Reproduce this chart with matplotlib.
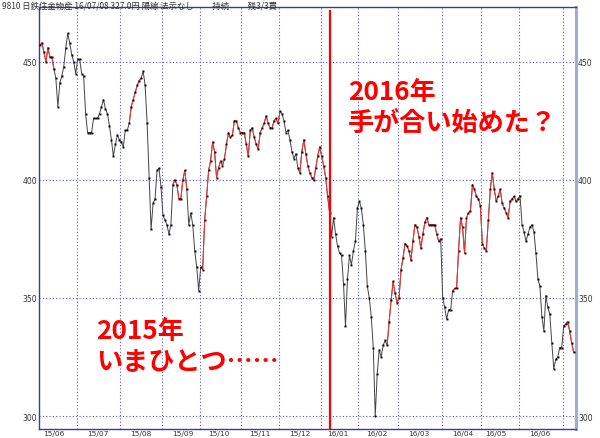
import matplotlib
matplotlib.use("Agg")
import matplotlib.pyplot as plt
import numpy as np
import pandas as pd

# 9810 日鉄住金物産 日足終値 2015/06/04 - 2016/07/08 (チャートから読み取り)
close_2015_06 = [457, 458, 454, 450, 456, 452, 452, 447, 443, 431, 441, 444, 448, 456, 462, 458, 453, 450, 445]
close_2015_07 = [451, 451, 445, 444, 428, 420, 420, 420, 426, 426, 426, 428, 431, 434, 430, 428, 423, 417, 410, 415, 419, 417]
close_2015_08 = [416, 414, 421, 421, 424, 431, 434, 437, 440, 442, 443, 446, 440, 424, 401, 379, 390, 392, 404, 405, 397]
close_2015_09 = [385, 383, 381, 377, 381, 398, 400, 398, 392, 392, 400, 404, 396, 381, 386, 381, 370, 363, 353]
close_2015_10 = [363, 362, 383, 393, 404, 408, 416, 412, 401, 405, 408, 406, 409, 415, 420, 418, 419, 425, 425, 422, 420]
close_2015_11 = [420, 420, 415, 410, 421, 422, 418, 415, 413, 420, 422, 424, 427, 424, 422, 422, 425, 426, 424]
close_2015_12 = [429, 428, 425, 420, 421, 417, 412, 409, 411, 405, 403, 412, 417, 411, 406, 403, 401, 400, 405, 410, 414]
close_2016_01 = [410, 406, 401, 393, 386, 376, 384, 377, 372, 369, 368, 356, 338, 358, 368, 364, 370, 374, 388]
close_2016_02 = [391, 388, 381, 370, 355, 350, 342, 329, 300, 318, 328, 325, 330, 332, 330, 340, 349, 357, 352, 348]
close_2016_03 = [350, 362, 367, 373, 372, 370, 366, 374, 381, 380, 376, 371, 377, 382, 384, 381, 381, 381, 381, 377, 374, 375]
close_2016_04 = [350, 346, 341, 345, 345, 353, 354, 354, 370, 384, 380, 369, 384, 386, 387, 398, 396, 393, 392, 389]
close_2016_05 = [373, 371, 370, 383, 396, 403, 396, 391, 393, 396, 390, 388, 386, 384, 391, 392, 393, 391, 392]
close_2016_06 = [393, 381, 378, 374, 377, 380, 381, 378, 369, 358, 355, 342, 336, 351, 346, 343, 331, 320, 324, 325, 329, 329]
close_2016_07 = [338, 339, 340, 336, 331, 327]

close = (close_2015_06 + close_2015_07 + close_2015_08 + close_2015_09 + close_2015_10
         + close_2015_11 + close_2015_12 + close_2016_01 + close_2016_02 + close_2016_03
         + close_2016_04 + close_2016_05 + close_2016_06 + close_2016_07)

# 東証休場日
holidays = ["2015-07-20", "2015-09-21", "2015-09-22", "2015-09-23", "2015-10-12",
            "2015-11-03", "2015-11-23", "2015-12-23", "2015-12-31", "2016-01-01",
            "2016-01-11", "2016-02-11", "2016-03-21", "2016-04-29", "2016-05-03",
            "2016-05-04", "2016-05-05"]

# 赤く表示される期間 (足の番号)
red_spans = [(0, 7), (45, 51), (67, 74), (82, 121), (131, 146), (175, 202), (208, 242), (265, 269)]

mark_date = "2016-01-08"
title_txt = "9810 日鉄住金物産 16/07/08 327.0円 陽線 法示なし　　 持続　　 残3/3買"
note_2016 = "2016年\n手が合い始めた？"
note_2015 = "2015年\nいまひとつ……"

dates = pd.bdate_range("2015-06-04", "2016-07-08")
dates = dates[~dates.isin(pd.to_datetime(holidays))]
x = np.arange(len(close))
y = np.array(close, dtype=float)

JP = ["Noto Sans CJK JP", "DejaVu Sans"]
GRID = "#5555c8"

fig = plt.figure(figsize=(6, 4.39), dpi=100)
ax = fig.add_axes([39 / 600, 1 - 430 / 439, (576 - 39) / 600, (430 - 8) / 439])

# 月の区切り
months = dates.to_period("M")
starts = [i for i in range(1, len(dates)) if months[i] != months[i - 1]]
for i in starts:
    ax.axvline(i - 0.5, color=GRID, lw=0.8, ls=(0, (1, 2)), zorder=1)
for v in [300, 350, 400, 450]:
    ax.axhline(v, color=GRID, lw=0.8, ls=(0, (1, 2)), zorder=1)

# 月ラベルは15日以降の最初の営業日
lab_pos, lab_txt = [], []
for m in months.unique():
    idx = [i for i in range(len(dates)) if months[i] == m and dates[i].day >= 15]
    if idx:
        lab_pos.append(idx[0])
        lab_txt.append(dates[idx[0]].strftime("%y/%m"))

ax.plot(x, y, color="#444444", lw=0.7, zorder=3)
for a, b in red_spans:
    ax.plot(x[a:b + 1], y[a:b + 1], color="#ff3030", lw=0.7, zorder=4)
ax.plot(x, y, ls="none", marker="s", ms=1.4, mew=0, color="black", zorder=5)

mx = int(np.where(dates == pd.Timestamp(mark_date))[0][0])
ax.axvline(mx + 0.2, color="red", lw=1.6, ymax=0.99, zorder=6)

ax.set_xlim(-0.5, 270.2)
ax.set_ylim(294.5, 473.2)
ax.set_yticks([300, 350, 400, 450])
ax.set_xticks(lab_pos)
ax.set_xticklabels(lab_txt)
ax.tick_params(axis="y", length=0, labelsize=5.5, labelcolor="#333333", pad=1.5,
               labelleft=True, labelright=True)
ax.tick_params(axis="x", length=0, labelsize=5.3, labelcolor="#333333", pad=0.5)

for s in ["left", "bottom", "top"]:
    ax.spines[s].set_color("#3838a8")
    ax.spines[s].set_linewidth(1.0)
ax.spines["right"].set_color("#a8a8d8")
ax.spines["right"].set_linewidth(2.2)

ax.text(0.576, 0.762, note_2016, transform=ax.transAxes, color="red", fontsize=18.8,
        fontweight="bold", family=JP, va="center", ha="left", linespacing=1.2)
ax.text(0.106, 0.197, note_2015, transform=ax.transAxes, color="red", fontsize=18.8,
        fontweight="bold", family=JP, va="center", ha="left", linespacing=1.2)

fig.text(2 / 600, 1 - 6 / 439, title_txt, fontsize=6.0, family=JP, color="#333333",
         va="center", ha="left")

fig.savefig("out.png", dpi=100)
